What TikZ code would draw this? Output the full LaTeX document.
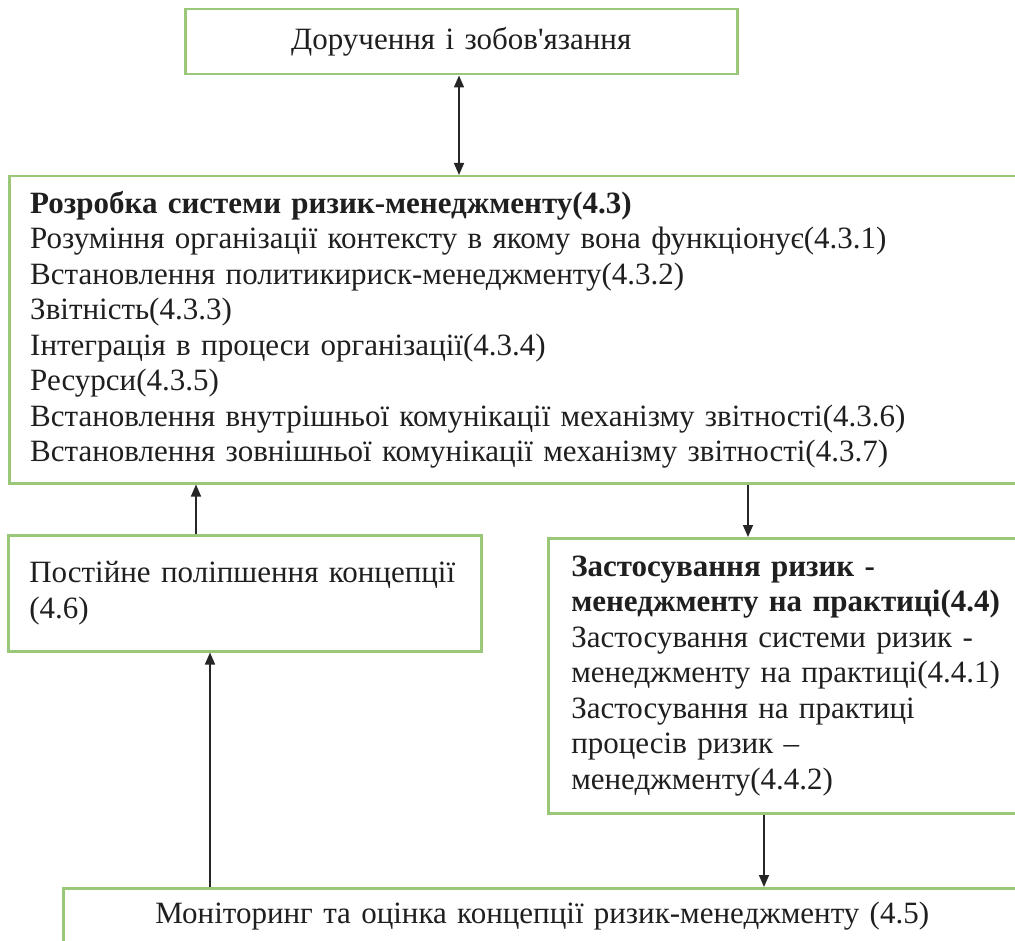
\documentclass[tikz,border=0pt]{standalone}
\usepackage{fontspec}
\setmainfont{Liberation Serif}
\usetikzlibrary{arrows.meta}
\definecolor{boxgreen}{RGB}{155,199,120}
\begin{document}
\begin{tikzpicture}[x=1pt,y=-1pt,
  box/.style={draw=boxgreen,line width=2.5pt,fill=white,inner xsep=21pt,inner ysep=0pt,
    align=left,font=\fontsize{31}{35.5}\selectfont,text=black!88,anchor=north west},
  conn/.style={line width=1.6pt,draw=black!85,-{Triangle[length=12pt,width=10pt]}}]
\useasboundingbox (0,0) rectangle (1015,941);
\clip (0,0) rectangle (1015,941);
\node[box,align=center,text width=510pt,minimum height=65pt] (top) at (184,8) {Доручення і зобов\textquotesingle язання};
\node[box,text width=970pt,minimum height=307pt] (main) at (8,175) {\textbf{Розробка системи ризик-менеджменту(4.3)}\\
Розуміння організації контексту в якому вона функціонує(4.3.1)\\
Встановлення политикириск-менеджменту(4.3.2)\\
Звітність(4.3.3)\\
Інтеграція в процеси організації(4.3.4)\\
Ресурси(4.3.5)\\
Встановлення внутрішньої комунікації механізму звітності(4.3.6)\\
Встановлення зовнішньої комунікації механізму звітності(4.3.7)};
\node[box,text width=431pt,minimum height=116pt] (left) at (7,534) {Постійне поліпшення концепції\\(4.6)};
\node[box,inner xsep=23pt,text width=480pt,minimum height=275pt] (right) at (547,537) {\textbf{Застосування ризик -}\\
\textbf{менеджменту на практиці(4.4)}\\
Застосування системи ризик -\\
менеджменту на практиці(4.4.1)\\
Застосування на практиці\\
процесів ризик –\\
менеджменту(4.4.2)};
\node[box,align=center,text width=916pt,minimum height=56pt] (bottom) at (62,887) {Моніторинг та оцінка концепції ризик-менеджменту (4.5)};
\coordinate (xa) at (459,0);
\coordinate (xb) at (748,0);
\coordinate (xc) at (196,0);
\coordinate (xd) at (210,0);
\coordinate (xe) at (764,0);
\draw[conn,{Triangle[length=12pt,width=10pt]}-{Triangle[length=12pt,width=10pt]}] (top.south -| xa) -- (main.north -| xa);
\draw[conn] (main.south -| xb) -- (right.north -| xb);
\draw[conn] (left.north -| xc) -- (main.south -| xc);
\draw[conn] (bottom.north -| xd) -- (left.south -| xd);
\draw[conn] (right.south -| xe) -- (bottom.north -| xe);
\end{tikzpicture}
\end{document}
